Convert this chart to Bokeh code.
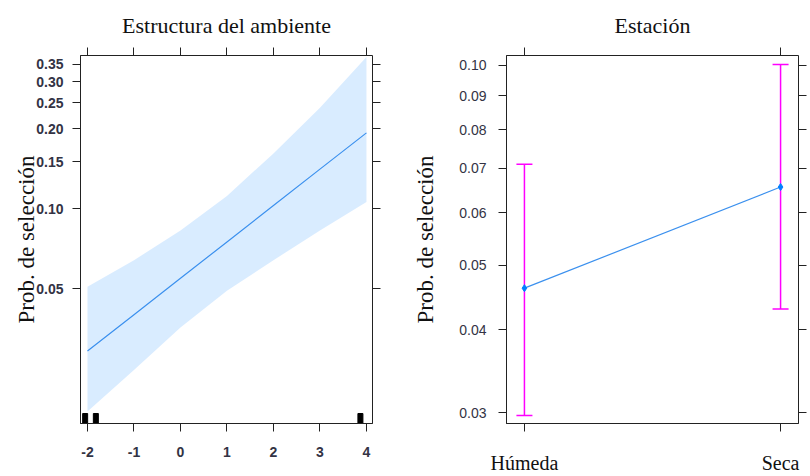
from bokeh.plotting import figure
from bokeh.layouts import row
from bokeh.models import (Range1d, FixedTicker, LinearAxis, LogAxis, PrintfTickFormatter,
                          CustomJSTickFormatter, ColumnDataSource, Whisker, TeeHead)
from bokeh.embed import file_html
from bokeh.resources import INLINE

# ---------------- data ----------------
# Left panel: Estructura del ambiente (effect curve with confidence band)
estructura_x = [-2, -1, 0, 1, 2, 3, 4]
estructura_fit = [0.0292, 0.0400, 0.0548, 0.0751, 0.1029, 0.141, 0.193]
estructura_lower = [0.0173, 0.0248, 0.0358, 0.0492, 0.0641, 0.0829, 0.1062]
estructura_upper = [0.0509, 0.0641, 0.0829, 0.1118, 0.1616, 0.2396, 0.372]
estructura_rug = [-2.05, -1.82, 3.87]
left_xticks = [-2, -1, 0, 1, 2, 3, 4]
left_yticks = [0.05, 0.10, 0.15, 0.20, 0.25, 0.30, 0.35]

# Right panel: Estación (point estimates with intervals)
estacion_cats = ["Húmeda", "Seca"]
estacion_fit = [0.0462, 0.0656]
estacion_lower = [0.0297, 0.0430]
estacion_upper = [0.0710, 0.1003]
right_yticks = [0.03, 0.04, 0.05, 0.06, 0.07, 0.08, 0.09, 0.10]

SERIF = "Liberation Serif"
SANS = "Liberation Sans"
BLUE = "#0080ff"
LINE_BLUE = "#3b90ee"
MAGENTA = "#ff00ff"
TICK_TXT = "#333344"
FRAME = "#222222"


def style_common(p, title, title_offset):
    p.grid.visible = False
    p.outline_line_color = FRAME
    p.outline_line_width = 1
    p.title.text = title
    p.title.align = "center"
    p.title.offset = title_offset
    p.title.standoff = 20
    p.title.text_line_height = 0.5
    p.title.text_font = SERIF
    p.title.text_font_size = "22px"
    p.title.text_font_style = "normal"
    p.title.text_color = "#111111"
    for ax in p.axis:
        ax.major_tick_out = 8
        ax.major_tick_in = 0
        ax.minor_tick_line_color = None
        ax.axis_line_color = FRAME
        ax.major_tick_line_color = FRAME
        ax.major_label_text_color = TICK_TXT
        ax.major_label_text_font = SANS
        ax.major_label_text_font_size = "14px"
    p.yaxis[0].axis_label = "Prob. de selección"
    p.yaxis[0].axis_label_text_font = SERIF
    p.yaxis[0].axis_label_text_font_size = "23px"
    p.yaxis[0].axis_label_text_font_style = "normal"
    p.yaxis[0].axis_label_text_color = "#111111"


def mirror_axes(p, xticks, yticks):
    blank = CustomJSTickFormatter(code="return '';")
    top = LinearAxis(ticker=FixedTicker(ticks=xticks, minor_ticks=[]), formatter=blank,
                     major_label_standoff=0, major_label_text_font_size="1px",
                     major_tick_out=8, major_tick_in=0, axis_line_color=None,
                     major_tick_line_color=FRAME, minor_tick_line_color=None)
    p.add_layout(top, "above")
    right = LogAxis(ticker=FixedTicker(ticks=yticks, minor_ticks=[]), formatter=blank,
                    major_label_standoff=0, major_label_text_font_size="1px",
                    major_tick_out=8, major_tick_in=0, axis_line_color=None,
                    major_tick_line_color=FRAME, minor_tick_line_color=None)
    p.add_layout(right, "right")


# ---------------- left panel ----------------
p1 = figure(width=400, height=476, x_range=Range1d(-2.15, 4.13), y_range=Range1d(0.0156, 0.377),
            y_axis_type="log", output_backend="svg", toolbar_location=None,
            min_border_left=80, min_border_right=28, min_border_top=55, min_border_bottom=49)
p1.varea(x=estructura_x, y1=estructura_lower, y2=estructura_upper, fill_color=BLUE, fill_alpha=0.15)
p1.line(estructura_x, estructura_fit, line_color=LINE_BLUE, line_width=1.2)
p1.rect(x=estructura_rug, y=[0.0156] * len(estructura_rug), width=5, height=20,
        width_units="screen", height_units="screen", fill_color="black", line_color="black")
p1.xaxis.ticker = FixedTicker(ticks=left_xticks, minor_ticks=[])
p1.xaxis.formatter = PrintfTickFormatter(format="%d")
p1.yaxis.ticker = FixedTicker(ticks=left_yticks, minor_ticks=[])
p1.yaxis.formatter = PrintfTickFormatter(format="%.2f")
style_common(p1, "Estructura del ambiente", 2)
p1.xaxis.major_label_standoff = 15
p1.yaxis.major_label_standoff = 9
p1.yaxis.major_label_text_font_style = "bold"
p1.xaxis.major_label_text_font_style = "bold"
p1.yaxis.axis_label_standoff = -6
mirror_axes(p1, left_xticks, left_yticks)

# ---------------- right panel ----------------
xpos = [i + 1 for i in range(len(estacion_cats))]
p2 = figure(width=410, height=476, x_range=Range1d(0.93, 2.07), y_range=Range1d(0.0289, 0.1035),
            y_axis_type="log", output_backend="svg", toolbar_location=None,
            min_border_left=106, min_border_right=12, min_border_top=55, min_border_bottom=49)
src = ColumnDataSource(dict(x=xpos, fit=estacion_fit, lo=estacion_lower, hi=estacion_upper))
wh = Whisker(source=src, base="x", lower="lo", upper="hi", dimension="height",
             line_color=MAGENTA, line_width=1.5,
             upper_head=TeeHead(size=16, line_color=MAGENTA, line_width=1.5),
             lower_head=TeeHead(size=16, line_color=MAGENTA, line_width=1.5))
p2.add_layout(wh)
p2.line("x", "fit", source=src, line_color=LINE_BLUE, line_width=1.2)
p2.scatter("x", "fit", source=src, marker="diamond", size=7, fill_color=BLUE, line_color=BLUE)
p2.xaxis.ticker = FixedTicker(ticks=xpos, minor_ticks=[])
p2.xaxis.major_label_overrides = {x: c for x, c in zip(xpos, estacion_cats)}
p2.yaxis.ticker = FixedTicker(ticks=right_yticks, minor_ticks=[])
p2.yaxis.formatter = PrintfTickFormatter(format="%.2f")
style_common(p2, "Estación", 9)
p2.xaxis.major_label_text_font = SERIF
p2.xaxis.major_label_text_font_size = "20px"
p2.xaxis.major_label_text_color = "#111111"
p2.xaxis.major_label_standoff = 20
p2.yaxis.major_label_standoff = 12
p2.yaxis.axis_label_standoff = 18
mirror_axes(p2, xpos, right_yticks)

layout = row(p1, p2)
open("out.html", "w").write(file_html(layout, INLINE))
